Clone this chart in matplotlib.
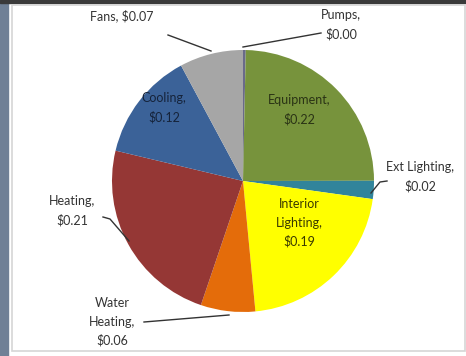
import matplotlib
matplotlib.use("Agg")
import matplotlib.pyplot as plt
from matplotlib.patches import Rectangle

# Data
categories = ["Pumps", "Equipment", "Ext Lighting", "Interior Lighting",
              "Water Heating", "Heating", "Cooling", "Fans"]
values = [0.003, 0.22, 0.02, 0.19, 0.06, 0.21, 0.12, 0.07]
colors = ["#6a6a8a", "#77933c", "#31849b", "#ffff00",
          "#e46c0a", "#953735", "#3b6298", "#a6a6a6"]
label_text = ["Pumps,\n${:.2f}", "Equipment,\n${:.2f}", "Ext Lighting,\n${:.2f}",
              "Interior\nLighting,\n${:.2f}", "Water\nHeating,\n${:.2f}",
              "Heating,\n${:.2f}", "Cooling,\n${:.2f}", "Fans, ${:.2f}"]

# Layout (pixel coords, y measured from top)
W, H = 466, 356
label_pos = [(341, 25), (299, 110), (420, 177), (299, 223),
             (112, 322), (72, 211), (164, 108), (122, 16)]
leaders = {0: [(321, 33), (243, 47)],
           2: [(387, 181), (380, 182), (371, 193)],
           4: [(144, 322), (229, 315)],
           5: [(103, 217), (110, 219), (129, 241)],
           7: [(168, 35), (211, 51)]}
text_colors = {1: "#2a3315", 3: "#3a3a00", 6: "#15233a"}

fig = plt.figure(figsize=(W / 100, H / 100), dpi=100)
fig.patch.set_facecolor("white")
ax = fig.add_axes([0, 0, 1, 1])
ax.set_xlim(0, W)
ax.set_ylim(H, 0)
ax.set_aspect("equal")
ax.axis("off")

# frame decorations
ax.add_patch(Rectangle((0, 0), 8, H, color="#6f8096", zorder=0))
ax.add_patch(Rectangle((0, 0), W, 2.5, color="#3a3a3a", zorder=0))
ax.add_patch(Rectangle((12, 5), W - 13, 346, fill=False, ec="#d5d5d5", lw=1.2, zorder=0))

# pie: y axis inverted, so counterclock=True draws clockwise on screen; startangle -90 -> top
ax.pie(values, colors=colors, startangle=-90, counterclock=True,
       center=(243, 181), radius=131, frame=True,
       wedgeprops=dict(linewidth=0, edgecolor="none"))
ax.set_xlim(0, W)
ax.set_ylim(H, 0)
ax.axis("off")

for i, (cat, v) in enumerate(zip(categories, values)):
    x, y = label_pos[i]
    ax.text(x, y, label_text[i].format(v), ha="center", va="center",
            fontsize=9, family="Lato", color=text_colors.get(i, "#333333"),
            linespacing=1.65, zorder=5)
    if i in leaders:
        xs = [p[0] for p in leaders[i]]
        ys = [p[1] for p in leaders[i]]
        ax.plot(xs, ys, color="#333333", lw=1.0, zorder=4)

fig.savefig("out.png", dpi=100)
